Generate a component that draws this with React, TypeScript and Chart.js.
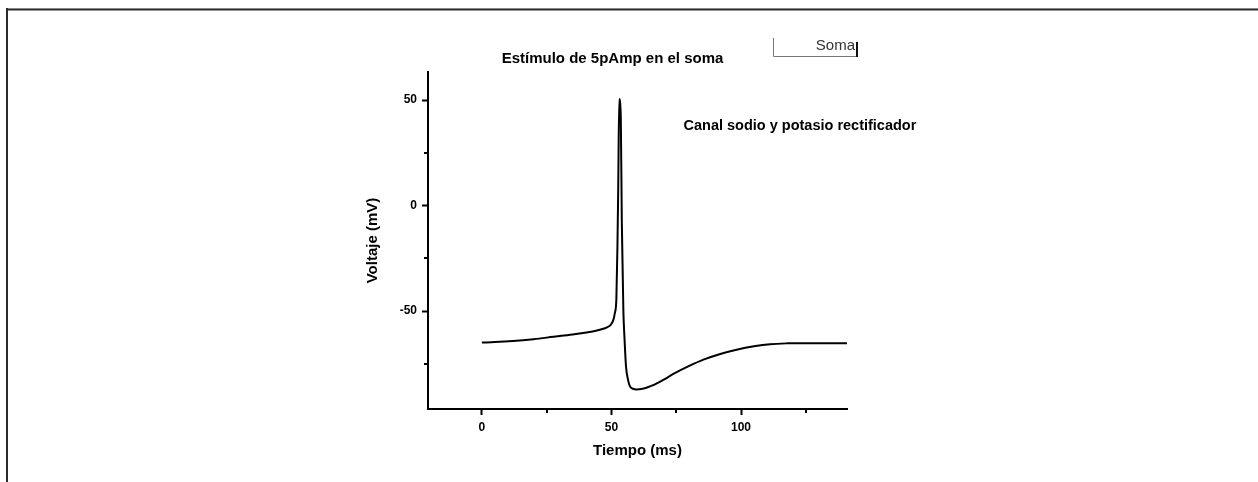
import React, { useEffect, useRef } from "react";
import { Chart, registerables } from "chart.js";

Chart.register(...registerables);

// ---- data ----
const timeMs = [
  0, 5, 12, 20, 27.5, 35, 40.4, 44, 46.8, 48.1, 49.5, 50.7, 51.3, 51.9, 52.3, 52.6, 53.0,
  53.6, 54.0, 54.6, 55.0, 55.6, 56.3, 57.1, 58.3, 59.7, 62, 64, 66.1, 70, 73.9, 80, 85.5,
  92, 98.3, 105, 111.2, 117.6, 125, 133, 140.9,
];
const voltageMv = [
  -64.9, -64.7, -64.2, -63.3, -62.2, -61.1, -60.1, -59.3, -58.4, -57.8, -56.8, -54.3, -51,
  -44, -20, 7, 50.5, 42, -8, -50, -62, -76, -82, -85.6, -86.8, -87.1, -86.8, -86.1, -85.1,
  -82.6, -79.8, -76.0, -73.0, -70.3, -68.3, -66.7, -65.7, -65.3, -65.2, -65.2, -65.2,
];
const xMajorTicks = [0, 50, 100];
const xMinorTicks = [25, 75, 125];
const yMajorTicks = [-50, 0, 50];
const yMinorTicks = [-75, -25, 25];
const chartTitle = "Estímulo de 5pAmp en el soma";
const annotationText = "Canal sodio y potasio rectificador";
const legendLabel = "Soma";
const xTitle = "Tiempo (ms)";
const yTitle = "Voltaje (mV)";
const X_MIN = -20.8;
const X_MAX = 140.9;
const Y_MIN = -96.4;
const Y_MAX = 63.3;

const FONT = "'Liberation Sans', Arial, sans-serif";

const decorPlugin = {
  id: "decor",
  beforeDraw(chart: any) {
    const ctx = chart.ctx;
    ctx.save();
    ctx.fillStyle = "#fff";
    ctx.fillRect(0, 0, chart.width, chart.height);
    // outer frame (top + left)
    ctx.fillStyle = "#888";
    ctx.fillRect(6, 8, chart.width, 1);
    ctx.fillStyle = "#2b2b2b";
    ctx.fillRect(6, 9, chart.width, 1.5);
    ctx.fillRect(6, 8, 2, chart.height);
    ctx.restore();
  },
  afterDraw(chart: any) {
    const ctx = chart.ctx;
    const xs = chart.scales.x;
    const ys = chart.scales.y;
    const area = chart.chartArea;
    ctx.save();
    // minor ticks
    ctx.strokeStyle = "#000";
    ctx.lineWidth = 2;
    xMinorTicks.forEach((v) => {
      const px = Math.round(xs.getPixelForValue(v));
      ctx.beginPath();
      ctx.moveTo(px, area.bottom);
      ctx.lineTo(px, area.bottom + 4);
      ctx.stroke();
    });
    yMinorTicks.forEach((v) => {
      const py = Math.round(ys.getPixelForValue(v));
      ctx.beginPath();
      ctx.moveTo(area.left, py);
      ctx.lineTo(area.left - 4, py);
      ctx.stroke();
    });
    // title
    ctx.fillStyle = "#000";
    ctx.textBaseline = "middle";
    ctx.textAlign = "center";
    ctx.font = `bold 15px ${FONT}`;
    ctx.fillText(chartTitle, 612.5, 59);
    // annotation
    ctx.textAlign = "left";
    ctx.font = `bold 14.5px ${FONT}`;
    ctx.fillText(annotationText, 683.5, 126);
    // legend
    ctx.strokeStyle = "#777";
    ctx.lineWidth = 1;
    ctx.beginPath();
    ctx.moveTo(773.5, 38);
    ctx.lineTo(773.5, 56.5);
    ctx.lineTo(857, 56.5);
    ctx.stroke();
    ctx.strokeStyle = "#111";
    ctx.lineWidth = 2;
    ctx.beginPath();
    ctx.moveTo(857, 42);
    ctx.lineTo(857, 57);
    ctx.stroke();
    ctx.fillStyle = "#333";
    ctx.textAlign = "right";
    ctx.font = `15px ${FONT}`;
    ctx.fillText(legendLabel, 855, 46);
    ctx.restore();
  },
};

export default function App() {
  const ref = useRef<HTMLCanvasElement>(null);
  useEffect(() => {
    const canvas = ref.current;
    if (!canvas) return;
    const chart = new Chart(canvas, {
      type: "line",
      data: {
        datasets: [
          {
            label: legendLabel,
            data: timeMs.map((t, i) => ({ x: t, y: voltageMv[i] })),
            borderColor: "#000",
            borderWidth: 2,
            pointRadius: 0,
            cubicInterpolationMode: "monotone",
            fill: false,
          },
        ],
      },
      options: {
        responsive: false,
        animation: false,
        devicePixelRatio: 1,
        layout: { padding: { left: 300, right: 411, top: 72, bottom: 0 } },
        plugins: {
          legend: { display: false },
          title: { display: false },
          tooltip: { enabled: false },
        },
        scales: {
          x: {
            type: "linear",
            min: X_MIN,
            max: X_MAX,
            afterFit: (s: any) => {
              s.height = 73;
            },
            afterBuildTicks: (s: any) => {
              s.ticks = xMajorTicks.map((v) => ({ value: v }));
            },
            grid: {
              display: true,
              drawOnChartArea: false,
              tickLength: 6,
              tickWidth: 2,
              tickColor: "#000",
            },
            border: { display: true, color: "#000", width: 2 },
            ticks: {
              color: "#000",
              font: { family: FONT, size: 12, weight: "bold" },
              padding: 5,
              maxRotation: 0,
              autoSkip: false,
            },
            title: {
              display: true,
              text: xTitle,
              color: "#000",
              font: { family: FONT, size: 15, weight: "bold" },
              padding: { top: 0, bottom: 22 },
            },
          },
          y: {
            type: "linear",
            min: Y_MIN,
            max: Y_MAX,
            afterFit: (s: any) => {
              s.width = 128;
            },
            afterBuildTicks: (s: any) => {
              s.ticks = yMajorTicks.map((v) => ({ value: v }));
            },
            grid: {
              display: true,
              drawOnChartArea: false,
              tickLength: 6,
              tickWidth: 2,
              tickColor: "#000",
            },
            border: { display: true, color: "#000", width: 2 },
            ticks: {
              color: "#000",
              font: { family: FONT, size: 12, weight: "bold" },
              padding: 5,
              autoSkip: false,
            },
            title: {
              display: true,
              text: yTitle,
              color: "#000",
              font: { family: FONT, size: 15, weight: "bold" },
              padding: { top: 63.7, bottom: 0 },
            },
          },
        },
      },
      plugins: [decorPlugin],
    } as any);
    return () => chart.destroy();
  }, []);
  return (
    <div
      style={{
        position: "fixed",
        left: 0,
        top: 0,
        width: 1258,
        height: 482,
        background: "#fff",
      }}
    >
      <canvas ref={ref} width={1258} height={482} style={{ display: "block" }} />
    </div>
  );
}
